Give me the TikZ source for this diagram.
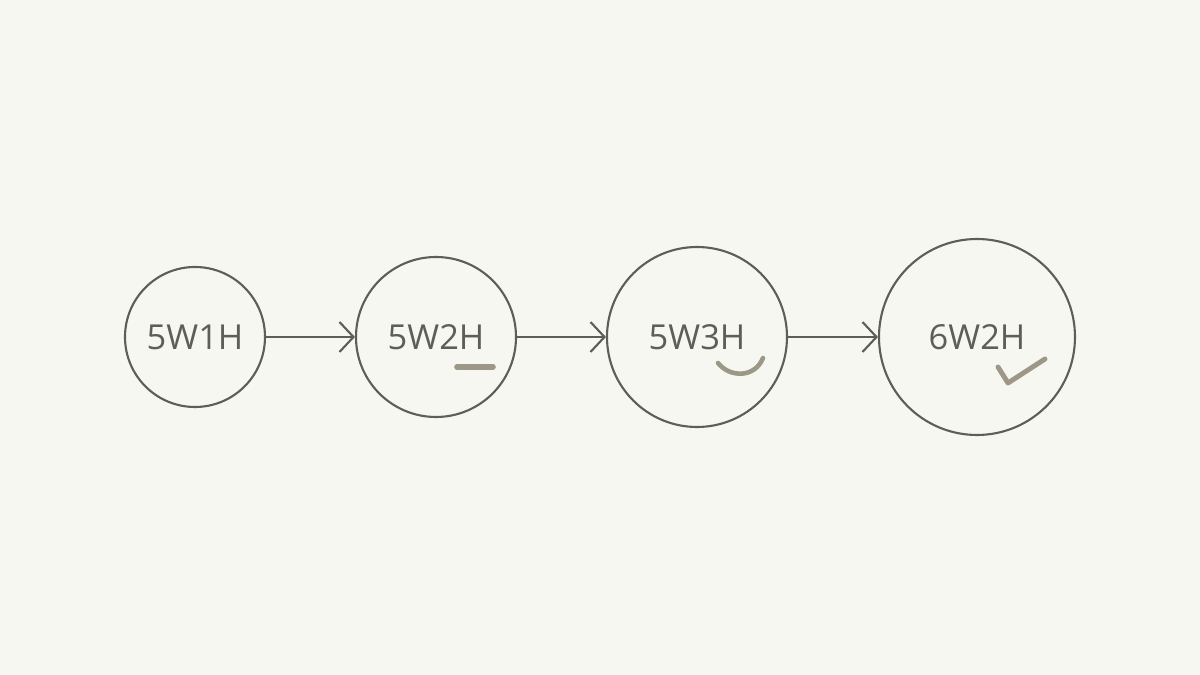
\documentclass[tikz,border=0pt]{standalone}
\usepackage{fontspec}
\setmainfont{Open Sans}
\usetikzlibrary{arrows.meta}
\definecolor{paper}{HTML}{F7F7F2}
\definecolor{ink}{HTML}{5E5D58}
\definecolor{pencil}{HTML}{9C9786}
\tikzset{
    stage/.style={circle, draw=ink, line width=0.6pt, inner sep=0pt, text=ink, font=\fontsize{9.8}{12}\selectfont},
    mark/.style={}
}
\begin{document}
\begin{tikzpicture}[>={Straight Barb[length=1.4mm,width=3mm]}]
        \fill[paper] (0,0) rectangle (12,6.75);
        \node[stage, minimum size=1.40cm] at (1.95, 3.38)  (a)    {5W1H};
        \node[stage, minimum size=1.60cm] at (4.36, 3.38)  (b)    {5W2H};
        \node[stage, minimum size=1.80cm] at (6.97, 3.38)  (c)    {5W3H};
        \node[stage, minimum size=1.96cm] at (9.77, 3.38)  (d)    {6W2H};
        \draw[->, draw=ink, line width=0.6pt]  (a) -- (b);
        \draw[->, draw=ink, line width=0.6pt]  (b) -- (c);
        \draw[->, draw=ink, line width=0.6pt]  (c) -- (d);
        % pencil marks under the last letters
        \draw[pencil, line width=1.6pt, line cap=round]  (4.57, 3.08) -- (4.93, 3.08);
        \draw[pencil, line width=1.3pt, line cap=round]  (7.18, 3.12) .. controls (7.30, 2.97) and (7.55, 2.97) .. (7.63, 3.17);
        \draw[pencil, line width=1.4pt, line cap=round, line join=round]  (9.98, 3.08) -- (10.08, 2.92) -- (10.45, 3.16);
    \end{tikzpicture}
\end{document}
